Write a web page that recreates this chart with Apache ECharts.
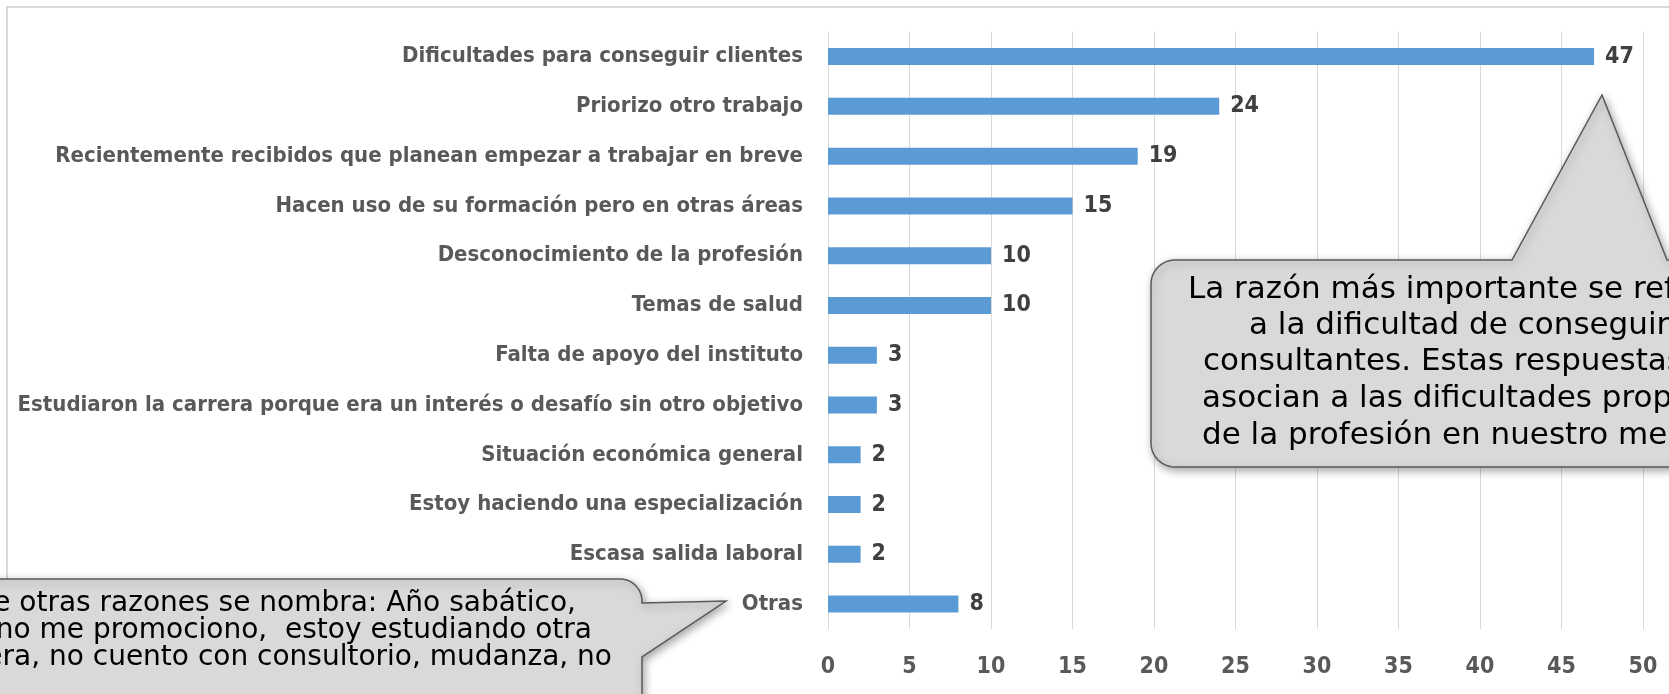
<!DOCTYPE html>
<html>
<head>
<meta charset="utf-8">
<script src="https://cdn.jsdelivr.net/npm/echarts@6/dist/echarts.min.js"></script>
<style>
html,body{margin:0;padding:0;background:#fff;}
#chart{width:1669px;height:694px;}
</style>
</head>
<body>
<div id="chart"></div>
<script>
const categories = [
  'Dificultades para conseguir clientes',
  'Priorizo otro trabajo',
  'Recientemente recibidos que planean empezar a trabajar en breve',
  'Hacen uso de su formación pero en otras áreas',
  'Desconocimiento de la profesión',
  'Temas de salud',
  'Falta de apoyo del instituto',
  'Estudiaron la carrera porque era un interés o desafío sin otro objetivo',
  'Situación económica general',
  'Estoy haciendo una especialización',
  'Escasa salida laboral',
  'Otras'
];
const values = [47, 24, 19, 15, 10, 10, 3, 3, 2, 2, 2, 8];
const xMin = 0, xMax = 50, xStep = 5;

const rightNote = [
  'La razón más importante se refiere',
  'a la dificultad de conseguir',
  'consultantes. Estas respuestas se',
  'asocian a las dificultades propias',
  'de la profesión en nuestro medio.'
];
const leftNote = [
  'Entre otras razones se nombra: Año sabático,',
  'no me promociono,  estoy estudiando otra',
  'carrera, no cuento con consultorio, mudanza, no'
];

const labelFont = '"DejaVu Sans Condensed", "Liberation Sans Narrow", sans-serif';
const noteFont = '"DejaVu Sans", sans-serif';

const chart = echarts.init(document.getElementById('chart'), null, {renderer: 'canvas'});

function arc(cx, cy, r, a0, a1, n) {
  const pts = [];
  for (let i = 0; i <= n; i++) {
    const a = a0 + (a1 - a0) * i / n;
    pts.push([cx + r * Math.cos(a), cy + r * Math.sin(a)]);
  }
  return pts;
}
const PI = Math.PI;

// right callout geometry
const rL = 1151, rT = 260, rR = 1780, rB = 467, rr = 24;
const rightPts = [
  [rL + rr, rT], [1512, rT], [1602, 95], [1667, rT], [rR, rT], [rR, rB],
  ...arc(rL + rr, rB - rr, rr, PI / 2, PI, 10),
  ...arc(rL + rr, rT + rr, rr, PI, 1.5 * PI, 10)
];
// left callout geometry
const lL = -60, lT = 579, lR = 642, lB = 780, lr = 22;
const leftPts = [
  [lL, lT],
  ...arc(lR - lr, lT + lr, lr, 1.5 * PI, 2 * PI, 10),
  [lR, 603], [726, 601], [lR, 657], [lR, lB], [lL, lB]
];

const rightStartX = [1188, 1249, 1203, 1202, 1202];
const rightY = [290, 326, 362, 399, 436];
const leftEndX = [576, 592, 612];
const leftY = [604, 631, 658];

const calloutStyle = {fill: '#d9d9d9', stroke: '#595959', lineWidth: 1.5,
  shadowBlur: 8, shadowOffsetX: 2, shadowOffsetY: 3, shadowColor: 'rgba(0,0,0,0.35)'};

const graphics = [
  {type: 'rect', z: 1, silent: true,
   shape: {x: 7, y: 7, width: 1720, height: 760},
   style: {fill: 'none', stroke: '#d9d9d9', lineWidth: 2}},
  {type: 'polygon', z: 100, silent: true, shape: {points: rightPts}, style: calloutStyle},
  {type: 'polygon', z: 100, silent: true, shape: {points: leftPts}, style: calloutStyle}
];
rightNote.forEach((t, i) => graphics.push({
  type: 'text', z: 101, silent: true,
  style: {text: t, x: rightStartX[i], y: rightY[i], fill: '#000000',
          fontSize: 31, fontFamily: noteFont, align: 'left', verticalAlign: 'middle'}
}));
leftNote.forEach((t, i) => graphics.push({
  type: 'text', z: 101, silent: true,
  style: {text: t, x: leftEndX[i], y: leftY[i], fill: '#000000',
          fontSize: 28, fontFamily: noteFont, align: 'right', verticalAlign: 'middle'}
}));

chart.setOption({
  animation: false,
  backgroundColor: '#ffffff',
  grid: {left: 828, right: 26, top: 31.7, bottom: 65, containLabel: false, outerBoundsMode: 'none'},
  xAxis: {
    type: 'value', min: xMin, max: xMax, interval: xStep,
    axisLine: {show: false}, axisTick: {show: false},
    splitLine: {show: true, lineStyle: {color: '#d9d9d9', width: 1}},
    axisLabel: {fontSize: 23, fontWeight: 'bold', color: '#595959', fontFamily: labelFont, margin: 27}
  },
  yAxis: {
    type: 'category', data: categories, inverse: true,
    axisLine: {show: false}, axisTick: {show: false},
    axisLabel: {fontSize: 22, fontWeight: 'bold', color: '#595959', fontFamily: labelFont, margin: 25}
  },
  series: [{
    type: 'bar', data: values, barWidth: 17,
    itemStyle: {color: '#5b9bd5'},
    label: {show: true, position: 'right', distance: 11, fontSize: 23, fontWeight: 'bold',
            color: '#404040', fontFamily: labelFont}
  }],
  graphic: graphics
});
</script>
</body>
</html>
